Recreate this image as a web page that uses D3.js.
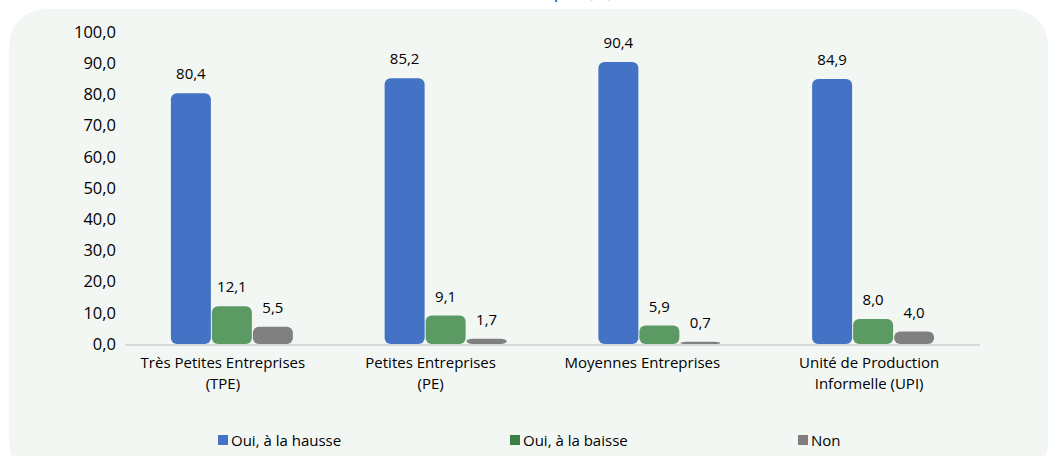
<!DOCTYPE html>
<html>
<head>
<meta charset="utf-8">
<script src="https://cdn.jsdelivr.net/npm/d3@7"></script>
<style>
  html, body { margin: 0; padding: 0; background: #ffffff; }
  svg { display: block; }
  text { font-family: "Open Sans", "Noto Sans", sans-serif; fill: #000000; }
</style>
</head>
<body>
<svg id="chart" width="1051" height="456"></svg>
<script>
// Category labels (each entry is split into lines)
const categories = [
  ["Très Petites Entreprises", "(TPE)"],
  ["Petites Entreprises", "(PE)"],
  ["Moyennes Entreprises"],
  ["Unité de Production", "Informelle (UPI)"]
];
const seriesNames = ["Oui, à la hausse", "Oui, à la baisse", "Non"];
const hausse = [80.4, 85.2, 90.4, 84.9];
const baisse = [12.1, 9.1, 5.9, 8.0];
const non = [5.5, 1.7, 0.7, 4.0];
const yTicks = [0, 10, 20, 30, 40, 50, 60, 70, 80, 90, 100];
const titleText = "Variation des prix (%)";

const barColors = ["#4472c4", "#5b9a63", "#808080"];
const legendColors = ["#4472c4", "#3b7f46", "#7f7f7f"];
// horizontal nudge of each category label relative to its group centre
const labelShift = [-9, -15, -17, -4];

const svg = d3.select("#chart");

// panel background
svg.append("rect")
  .attr("x", 9).attr("y", 9)
  .attr("width", 1039).attr("height", 470)
  .attr("rx", 36).attr("ry", 36)
  .attr("fill", "#f3f7f4");

// title (runs above the visible area)
svg.append("text")
  .attr("x", 612).attr("y", -2)
  .attr("text-anchor", "end")
  .style("font-size", "16px")
  .style("font-weight", "600")
  .style("fill", "#2f6ea8")
  .text(titleText);

const fr = d3.formatLocale({ decimal: ",", thousands: " ", grouping: [3], currency: ["", " €"] });
const fmt = fr.format(".1f");

const catKeys = categories.map(c => c.join(" "));
const x0 = d3.scaleBand().domain(catKeys).range([125, 980]).padding(0);
const x1 = d3.scaleBand().domain(seriesNames).range([0, x0.bandwidth()])
  .paddingInner(0).paddingOuter(1.107);
const y = d3.scaleLinear().domain([0, 100]).range([344, 32]);

// y axis
const yAxis = d3.axisLeft(y).tickValues(yTicks).tickFormat(fmt).tickSize(0).tickPadding(9);
const gy = svg.append("g").attr("transform", "translate(125,0)").call(yAxis);
gy.select(".domain").remove();
gy.selectAll("text")
  .style("font-family", "'Open Sans', sans-serif")
  .style("font-size", "16.5px")
  .style("font-weight", "500")
  .style("fill", "#000000");

// baseline
svg.append("line")
  .attr("x1", 125).attr("x2", 980)
  .attr("y1", y(0) + 1).attr("y2", y(0) + 1)
  .attr("stroke", "#d9d9d9").attr("stroke-width", 2);

const rows = catKeys.map((k, i) => ({
  key: k,
  values: [hausse[i], baisse[i], non[i]]
}));

const groups = svg.append("g").selectAll("g")
  .data(rows).join("g")
  .attr("transform", d => `translate(${x0(d.key)},0)`);

groups.selectAll("rect")
  .data(d => d.values.map((v, j) => ({ name: seriesNames[j], v, j })))
  .join("rect")
  .attr("x", d => x1(d.name) + 0.5)
  .attr("width", x1.bandwidth() - 1)
  .attr("y", d => y(d.v))
  .attr("height", d => y(0) - y(d.v))
  .attr("rx", 6).attr("ry", 6)
  .attr("fill", d => barColors[d.j]);

groups.selectAll("text.val")
  .data(d => d.values.map((v, j) => ({ name: seriesNames[j], v, j })))
  .join("text")
  .attr("class", "val")
  .attr("x", d => x1(d.name) + x1.bandwidth() / 2)
  .attr("y", d => y(d.v) - 14)
  .attr("text-anchor", "middle")
  .style("font-size", "15px")
  .style("font-weight", "500")
  .text(d => fmt(d.v));

// category labels
const catG = svg.append("g");
categories.forEach((lines, i) => {
  const cx = x0(catKeys[i]) + x0.bandwidth() / 2 + labelShift[i];
  const t = catG.append("text")
    .attr("x", cx).attr("y", 368)
    .attr("text-anchor", "middle")
    .style("font-size", "15px")
    .style("font-weight", "500");
  lines.forEach((ln, k) => {
    t.append("tspan").attr("x", cx).attr("dy", k === 0 ? 0 : 21).text(ln);
  });
});

// legend
const legendX = [218, 510, 798];
const leg = svg.append("g");
seriesNames.forEach((name, i) => {
  leg.append("rect")
    .attr("x", legendX[i]).attr("y", 435)
    .attr("width", 10).attr("height", 10)
    .attr("fill", legendColors[i]);
  leg.append("text")
    .attr("x", legendX[i] + 13).attr("y", 445.5)
    .style("font-size", "15px")
    .style("font-weight", "500")
    .text(name);
});
</script>
</body>
</html>
